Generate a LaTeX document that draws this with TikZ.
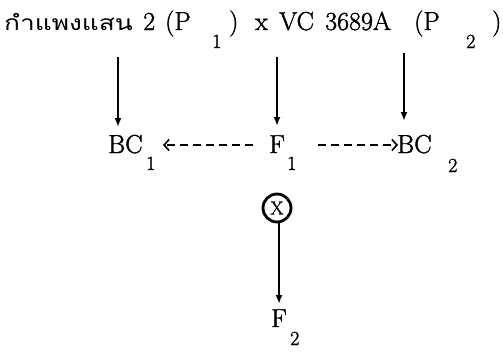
\documentclass[tikz,border=0pt]{standalone}
\usepackage{fontspec}
\newfontfamily\thaifont[Script=Thai, FakeStretch=1.25]{Loma}
\newfontfamily\printfont[FakeBold=1.5]{Latin Modern Roman}
\usetikzlibrary{arrows.meta}

\begin{document}
\begin{tikzpicture}[
            x=1pt, y=-1pt,
            word/.style={inner sep=0pt, anchor=base west, font=\printfont\fontsize{26}{30}\selectfont},
            index/.style={inner sep=0pt, anchor=base west, font=\printfont\fontsize{20}{24}\selectfont},
            arrow/.style={line width=1.8pt, -{Latex[length=9pt, width=7pt]}},
            dasharrow/.style={line width=1.6pt, dash pattern=on 8pt off 5pt, -{Straight Barb[length=5pt, width=11pt, line width=1.6pt]}},
            crossmark/.style={circle, draw, line width=2.8pt, minimum size=28pt, inner sep=0pt, font=\printfont\fontsize{19}{21}\selectfont}
        ]
            \useasboundingbox (0,0) rectangle (503,359);

            % Parents
            \node[word] (thai) at (4,30) {\thaifont\fontsize{21}{25}\selectfont กำแพงแสน};
            \node[word] (two) at (143,30) {2};
            \node[word] (lparA) at (165,30) {(P};
            \node[index] (subA) at (212,48) {1};
            \node[word] (rparA) at (229,30) {)};
            \node[word] (cross) at (255,30) {x};
            \node[word] (vc) at (279,30) {VC};
            \node[word] (code) at (325,30) {3689A};
            \node[word] (lparB) at (414,30) {(P};
            \node[index] (subB) at (466,48) {2};
            \node[word] (rparB) at (492,30) {)};

            % First generation
            \node[word] (bcA) at (108,153) {BC};
            \node[index] (bcAsub) at (146,170) {1};
            \node[word] (fA) at (269,153) {F};
            \node[index] (fAsub) at (287,170) {1};
            \node[word] (bcB) at (397,153) {BC};
            \node[index] (bcBsub) at (448,172) {2};

            % Selfing
            \node[crossmark] (self) at (277,208) {X};
            \node[word] (fB) at (271,327) {F};
            \node[index] (fBsub) at (290,345) {2};

            % Arrows
            \coordinate (fromA) at (118,57);
            \coordinate (fromB) at (277,57);
            \coordinate (fromC) at (404,53);
            \coordinate (leftEnd) at (163,145);
            \coordinate (rightEnd) at (398,145);
            \draw[arrow] (fromA) -- (fromA |- 0,127);
            \draw[arrow] (fromB) -- (fromB |- 0,126);
            \draw[arrow] (fromC) -- (fromC |- 0,121);
            \draw[dasharrow] (fA.west |- leftEnd) ++(-16,0) -- (leftEnd);
            \draw[dasharrow] (fA.east |- rightEnd) ++(33,0) -- (rightEnd);
            \draw[arrow] ([xshift=2pt]self.south) -- ([xshift=2pt]self.south |- 0,304);

        \end{tikzpicture}
\end{document}
